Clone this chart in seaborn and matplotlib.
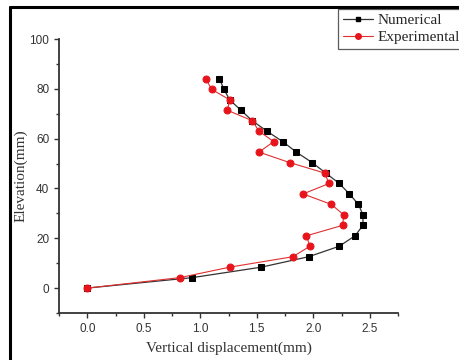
import numpy as np
import pandas as pd
import matplotlib.pyplot as plt
import seaborn as sns
from matplotlib.lines import Line2D
from matplotlib.ticker import MultipleLocator

# elevation (mm) of measuring points
elevation = [0, 4.2, 8.4, 12.6, 16.8, 21.0, 25.2, 29.4, 33.6, 37.8, 42.0,
             46.2, 50.4, 54.6, 58.8, 63.0, 67.2, 71.4, 75.6, 79.8, 84.0]
# vertical displacement (mm)
numerical = [0, 0.93, 1.54, 1.96, 2.23, 2.37, 2.44, 2.44, 2.40, 2.32, 2.23,
             2.11, 1.99, 1.85, 1.73, 1.59, 1.46, 1.36, 1.26, 1.21, 1.17]
experimental = [0, 0.82, 1.26, 1.82, 1.97, 1.94, 2.26, 2.27, 2.16, 1.91, 2.14,
                2.10, 1.79, 1.52, 1.65, 1.52, 1.46, 1.24, 1.26, 1.10, 1.05]

df = pd.DataFrame({'elev': elevation, 'num': numerical, 'exp': experimental})

sns.set_style('ticks')
plt.rcParams['font.family'] = ['Liberation Sans', 'DejaVu Sans']

fig = plt.figure(figsize=(4.59, 3.6), dpi=100)
ax = fig.add_axes([59 / 459, 1 - 313 / 360, (398 - 59) / 459, (313 - 39) / 360])

sns.lineplot(data=df, x='num', y='elev', sort=False, estimator=None, ax=ax,
             color='#333333', lw=0.9, marker='s', markersize=4.5,
             markerfacecolor='black', markeredgecolor='black')
sns.lineplot(data=df, x='exp', y='elev', sort=False, estimator=None, ax=ax,
             color='#e03030', lw=0.8, marker='o', markersize=5,
             markerfacecolor='#e8141c', markeredgecolor='#e8141c')

ax.set_xlim(-0.25, 2.75)
ax.set_ylim(-10, 100)
ax.xaxis.set_minor_locator(MultipleLocator(0.25))
ax.yaxis.set_major_locator(MultipleLocator(20))
ax.yaxis.set_minor_locator(MultipleLocator(10))
ax.set_xticks(np.arange(0, 2.51, 0.5))
ax.set_xticklabels([f'{v:.1f}' for v in np.arange(0, 2.51, 0.5)])

for s in ['top', 'right']:
    ax.spines[s].set_visible(False)
for s in ['left', 'bottom']:
    ax.spines[s].set_color('#333333')
    ax.spines[s].set_linewidth(1.3)
ax.tick_params(which='major', length=3.5, width=1, color='#333333',
               labelsize=8.5, labelcolor='#333333', pad=3.5)
ax.tick_params(which='minor', length=2, width=1, color='#333333')

serif = ['Liberation Serif', 'DejaVu Serif']
ax.set_xlabel('Vertical displacement(mm)', family=serif, fontsize=11,
              color='#333333', labelpad=5)
ax.set_ylabel('Elevation(mm)', family=serif, fontsize=11, color='#333333')
ax.yaxis.set_label_coords(-0.092, 0.5)

handles = [
    Line2D([], [], color='#333333', lw=0.9, marker='s', markersize=3.5,
           markerfacecolor='black', markeredgecolor='black'),
    Line2D([], [], color='#e03030', lw=0.8, marker='o', markersize=4,
           markerfacecolor='#e8141c', markeredgecolor='#e8141c'),
]
leg = ax.legend(handles, ['Numerical', 'Experimental'], loc='upper left',
                bbox_to_anchor=(338 / 459, 1 - 9 / 360),
                bbox_transform=fig.transFigure, frameon=True, fancybox=False,
                edgecolor='#333333', borderpad=0.3, handlelength=2.0,
                handletextpad=0.3, labelspacing=0.2, borderaxespad=0,
                prop={'family': serif, 'size': 11})
leg.get_frame().set_linewidth(0.9)

# frame lines on the left and top of the picture
fig.add_artist(Line2D([10 / 459, 10 / 459], [0, 1 - 7 / 360], color='black',
                      lw=2.2, transform=fig.transFigure))
fig.add_artist(Line2D([10 / 459, 1], [1 - 7 / 360, 1 - 7 / 360], color='black',
                      lw=2.2, transform=fig.transFigure))

fig.savefig('out.png', dpi=100)
